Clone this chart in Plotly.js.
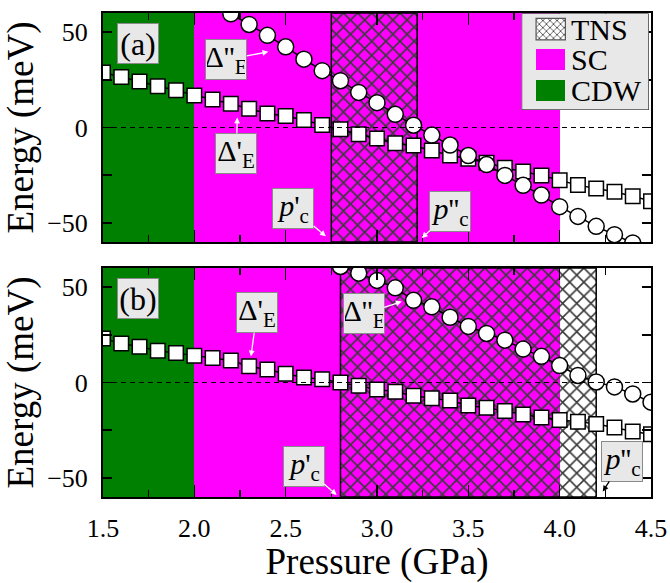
<!DOCTYPE html>
<html>
<head>
<meta charset="utf-8">
<script src="https://cdn.plot.ly/plotly-3.0.1.min.js"></script>
<style>
html,body{margin:0;padding:0;background:#fff;}
#chart{width:670px;height:583px;}
#chart text, #chart tspan{font-family:"Liberation Serif","Times New Roman",serif !important;}
</style>
</head>
<body>
<div id="chart"></div>
<script>
// ---------- data ----------
const pressure = [1.5,1.6,1.7,1.8,1.9,2.0,2.1,2.2,2.3,2.4,2.5,2.6,2.7,2.8,2.9,3.0,3.1,3.2,3.3,3.4,3.5,3.6,3.7,3.8,3.9,4.0,4.1,4.2,4.3,4.4,4.5];
// panel (a)
const deltaPrimeA = [28.8,26.4,24.1,21.6,19.5,16.7,14.7,12.4,9.8,7.3,6.0,3.9,1.3,-0.9,-3.5,-5.8,-8.2,-9.5,-12.1,-14.7,-16.4,-18.5,-21.1,-23.0,-25.1,-27.6,-30.2,-32.0,-33.7,-36.0,-38.6];
const pressureCircA = [2.2,2.3,2.4,2.5,2.6,2.7,2.8,2.9,3.0,3.1,3.2,3.3,3.4,3.5,3.6,3.7,3.8,3.9,4.0,4.1,4.2,4.3,4.4];
const deltaDoubleA = [59.6,54.0,48.3,42.3,35.8,29.8,24.5,18.4,13.0,6.9,1.2,-4.0,-9.2,-14.7,-19.4,-25.1,-30.3,-35.4,-41.5,-46.6,-51.8,-56.2,-60.5];
// panel (b)
const deltaPrimeB = [23.1,20.5,18.8,16.7,15.4,14.0,12.8,11.5,8.5,6.8,4.6,2.6,1.7,0.0,-1.7,-3.6,-4.8,-6.9,-8.2,-9.4,-12.0,-13.2,-14.9,-16.8,-18.3,-19.7,-20.5,-21.8,-23.6,-25.7,-27.1];
const pressureCircB = [2.8,2.9,3.0,3.1,3.2,3.3,3.4,3.5,3.6,3.7,3.8,3.9,4.0,4.1,4.2,4.3,4.4,4.5];
const deltaDoubleB = [60.8,57.3,53.5,49.6,43.1,39.7,34.2,29.4,25.7,22.2,17.5,13.7,8.9,3.7,0.3,-2.3,-6.0,-10.3];
// phase regions [start, end] in GPa
const cdwA = [1.5, 2.0], scA = [2.0, 4.0], tnsA = [2.75, 3.22];
const cdwB = [1.5, 2.0], scB = [2.0, 4.0], tnsB = [2.8, 4.2];
const legendLabels = ['TNS', 'SC', 'CDW'];
const xTickVals = [1.5, 2.0, 2.5, 3.0, 3.5, 4.0, 4.5];
const yTickVals = [-50, 0, 50];

// ---------- styling ----------
const SERIF = 'Liberation Serif';
const GREEN = '#008000', MAGENTA = '#ff00ff';
const Y0 = -60, Y1 = 60;

function region(span, xa, ya, color, pattern, line) {
  const t = {
    type: 'bar', x: [(span[0] + span[1]) / 2], y: [Y1 - Y0], base: [Y0],
    width: [span[1] - span[0]], xaxis: xa, yaxis: ya,
    marker: { color: color, line: line || { width: 0 } },
    hoverinfo: 'skip', showlegend: false
  };
  if (pattern) t.marker.pattern = pattern;
  return t;
}
const hatch = (bg) => ({ shape: 'x', fgcolor: '#3a3a3a', bgcolor: bg, size: 10, solidity: 0.3 });
const hatchLine = { width: 1.5, color: '#000' };

function series(x, y, xa, ya, symbol, size) {
  return {
    type: 'scatter', mode: 'lines+markers', x: x, y: y, xaxis: xa, yaxis: ya,
    line: { color: '#000', width: 1.5 },
    marker: { symbol: symbol, size: size, color: '#fff', line: { color: '#000', width: 1.5 } },
    cliponaxis: true, hoverinfo: 'skip', showlegend: false
  };
}

const traces = [
  // panel (a)  -> x2/y2
  region(cdwA, 'x2', 'y2', GREEN),
  region(scA, 'x2', 'y2', MAGENTA),
  region(tnsA, 'x2', 'y2', MAGENTA, hatch(MAGENTA), hatchLine),
  series(pressure, deltaPrimeA, 'x2', 'y2', 'square', 14.5),
  series(pressureCircA, deltaDoubleA, 'x2', 'y2', 'circle', 16),
  // panel (b)  -> x/y
  region(cdwB, 'x', 'y', GREEN),
  region(scB, 'x', 'y', MAGENTA),
  region(tnsB, 'x', 'y', 'rgba(0,0,0,0)', hatch('rgba(0,0,0,0)'), hatchLine),
  series(pressure, deltaPrimeB, 'x', 'y', 'square', 14.5),
  series(pressureCircB, deltaDoubleB, 'x', 'y', 'circle', 16)
];

// ---------- custom legend (subplot x3/y3, in local pixel-like units) ----------
const legW = 128, legH = 97, rowH = 30.7, swX0 = 14.5, swW = 29.5, swH = 21.5, swTop = 5;
traces.push({
  type: 'bar', x: [legW / 2], y: [legH], base: [0], width: [legW], xaxis: 'x3', yaxis: 'y3',
  marker: { color: '#e8e8e8', line: { color: '#000', width: 1 } }, hoverinfo: 'skip', showlegend: false
});
const swatchStyles = [
  { color: '#ffffff', pattern: { shape: 'x', fgcolor: '#444', bgcolor: '#fff', size: 5, solidity: 0.3 }, line: { color: '#555', width: 1.2 } },
  { color: MAGENTA, line: { width: 0 } },
  { color: GREEN, line: { width: 0 } }
];
legendLabels.forEach((lab, i) => {
  const m = { color: swatchStyles[i].color, line: swatchStyles[i].line };
  if (swatchStyles[i].pattern) m.pattern = swatchStyles[i].pattern;
  traces.push({
    type: 'bar', x: [swX0 + swW / 2], y: [swH], base: [swTop + i * rowH], width: [swW],
    xaxis: 'x3', yaxis: 'y3', marker: m, hoverinfo: 'skip', showlegend: false
  });
});

// ---------- annotations ----------
const boxFont = { family: SERIF, size: 30, color: '#000' };
function box(text, x, y, xr, yr, ax, ay, arrowColor, opts) {
  const a = Object.assign({
    text: text, x: x, y: y, xref: xr, yref: yr,
    showarrow: ax !== null, ax: ax || 0, ay: ay || 0,
    arrowcolor: arrowColor || '#fff', arrowwidth: 1.3, arrowhead: 2, arrowsize: 0.9,
    bgcolor: '#e8e8e8', bordercolor: '#8a8a8a', borderwidth: 1, borderpad: 1,
    width: 38, height: 37, font: boxFont, align: 'center', valign: 'middle'
  }, opts || {});
  return a;
}
const dpp = "Δ''<sub>E</sub>";
const dp = "Δ'<sub>E</sub>";
const pp = "<i>p</i>'<sub>c</sub>";
const ppp = "<i>p</i>''<sub>c</sub>";
const annotations = [
  // panel (a)
  box('(a)', 1.694, 44.2, 'x2', 'y2', null, null, null, { font: { family: SERIF, size: 32, color: '#000' } }),
  box(dpp, 2.405, 39.7, 'x2', 'y2', -42, 8),
  box(dp, 2.235, 5.2, 'x2', 'y2', -1, 36),
  box(pp, 2.72, -57, 'x2', 'y2', -32.7, -27.3),
  box(ppp, 3.245, -57.9, 'x2', 'y2', 28.6, -26),
  // panel (b)
  box('(b)', 1.694, 43.8, 'x', 'y', null, null, null, { font: { family: SERIF, size: 32, color: '#000' } }),
  box(dp, 2.31, 13.7, 'x', 'y', 6, -43.7),
  box(dpp, 3.135, 42.4, 'x', 'y', -38, 12.3),
  box(pp, 2.779, -58.9, 'x', 'y', -33, -28.7),
  box(ppp, 4.236, -57.1, 'x', 'y', 19.5, -30, '#000')
];
legendLabels.forEach((lab, i) => {
  annotations.push({
    text: lab, x: swX0 + swW + 4, y: swTop + i * rowH + swH / 2, xref: 'x3', yref: 'y3',
    xanchor: 'left', yanchor: 'middle', showarrow: false,
    font: { family: SERIF, size: 30, color: '#000' }
  });
});

// ---------- axes ----------
const tickFont = { family: SERIF, size: 26, color: '#000' };
const titleFont = { family: SERIF, size: 37, color: '#000' };
function xAxis(showLabels, anchor) {
  return {
    anchor: anchor, domain: [0, 1], range: [1.5, 4.5], showgrid: false, zeroline: false,
    showline: true, linewidth: 2, linecolor: '#000', mirror: 'ticks',
    ticks: 'inside', ticklen: 12, tickwidth: 1.5, tickcolor: '#000',
    tickvals: xTickVals, tickformat: '.1f', showticklabels: showLabels, tickfont: tickFont,
    ticklabelstandoff: 7,
    minor: { dtick: 0.25, tick0: 1.5, ticks: 'inside', ticklen: 7, tickwidth: 1.5, tickcolor: '#000', showgrid: false }
  };
}
function yAxis(domain, anchor) {
  return {
    anchor: anchor, domain: domain, range: [Y0, Y1], showgrid: false, zeroline: false,
    showline: true, linewidth: 2, linecolor: '#000', mirror: 'ticks',
    ticks: 'inside', ticklen: 9, tickwidth: 1.5, tickcolor: '#000',
    tickvals: yTickVals, tickfont: tickFont, ticklabelstandoff: 8,
    minor: { dtick: 25, tick0: 0, ticks: 'inside', ticklen: 9, tickwidth: 1.5, tickcolor: '#000', showgrid: false },
    title: { text: 'Energy (meV)', font: titleFont }
  };
}

const xa = xAxis(true, 'y');
xa.title = { text: 'Pressure (GPa)', font: titleFont };
const layout = {
  width: 670, height: 583,
  font: { family: SERIF },
  margin: { l: 103, r: 19, t: 13, b: 86 },
  paper_bgcolor: '#fff', plot_bgcolor: '#fff',
  barmode: 'overlay', bargap: 0, showlegend: false, hovermode: false,
  xaxis: xa,
  yaxis: yAxis([0, 0.4731], 'x'),
  xaxis2: xAxis(false, 'y2'),
  yaxis2: yAxis([0.5269, 1], 'x2'),
  xaxis3: { domain: [0.764, 0.996], range: [0, legW], visible: false, fixedrange: true, anchor: 'y3' },
  yaxis3: { domain: [0.7996, 0.999], range: [legH, 0], visible: false, fixedrange: true, anchor: 'x3' },
  shapes: [
    { type: 'line', xref: 'x2', yref: 'y2', x0: 1.5, x1: 4.5, y0: 0, y1: 0, line: { color: '#000', width: 1, dash: '5px,4px' }, layer: 'above' },
    { type: 'line', xref: 'x', yref: 'y', x0: 1.5, x1: 4.5, y0: 0, y1: 0, line: { color: '#000', width: 1, dash: '5px,4px' }, layer: 'above' }
  ],
  annotations: annotations
};

Plotly.newPlot('chart', traces, layout, { displayModeBar: false, staticPlot: true });
</script>
</body>
</html>
